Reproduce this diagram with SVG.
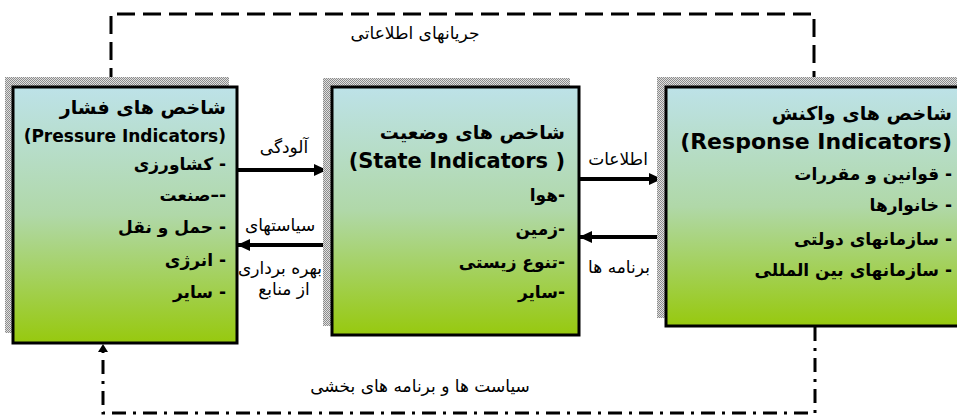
<svg xmlns="http://www.w3.org/2000/svg" width="957" height="419" viewBox="0 0 957 419">
<style>
.box{stroke:#000;stroke-width:3;fill:url(#g)}
.sh{fill:url(#dots)}
.fa{font-family:"DejaVu Sans",sans-serif;fill:#000}
.t{font-size:19px;font-weight:bold;direction:rtl;text-anchor:start}
.i{font-size:17px;font-weight:bold;direction:rtl;text-anchor:start}
.en{font-family:"DejaVu Sans",Verdana,sans-serif;font-weight:bold;text-anchor:end}
.lb{font-size:17px;text-anchor:middle;direction:rtl}
.ar{stroke:#000;stroke-width:4;fill:none}
.dash{stroke:#000;stroke-width:3;fill:none;stroke-dasharray:18 8}
.dd{stroke:#000;stroke-width:3;fill:none;stroke-dasharray:14 7 3 7}
</style>
<defs>
<linearGradient id="g" x1="0" y1="0" x2="0" y2="1">
<stop offset="0" stop-color="#bde2e8"/>
<stop offset="0.5" stop-color="#b0d8a8"/>
<stop offset="1" stop-color="#97c90e"/>
</linearGradient>
<pattern id="dots" width="2" height="2" patternUnits="userSpaceOnUse">
<rect width="2" height="2" fill="#e0e0e0"/>
<rect width="1" height="1" fill="#8c8c8c"/>
<rect x="1" y="1" width="1" height="1" fill="#8c8c8c"/>
</pattern>
<marker id="ah" markerUnits="userSpaceOnUse" markerWidth="14" markerHeight="14" refX="12" refY="7" orient="auto">
<path d="M0,1 L13,7 L0,13 Z" fill="#000"/>
</marker>
</defs>
<rect width="957" height="419" fill="#fff"/>

<g id="connectors">
<path class="dash" d="M111,86 V14 H814 V80"/>
<path d="M809,79 L819,79 L814,87 Z" fill="#000"/>
<path class="dd" d="M815,327 V413 H103 V352"/>
<path d="M98,352 L108,352 L103,344 Z" fill="#000"/>
<line class="ar" x1="237" y1="170" x2="326" y2="170" marker-end="url(#ah)"/>
<line class="ar" x1="332" y1="245" x2="238" y2="245" marker-end="url(#ah)"/>
<line class="ar" x1="579" y1="179" x2="661" y2="179" marker-end="url(#ah)"/>
<line class="ar" x1="666" y1="237" x2="580" y2="237" marker-end="url(#ah)"/>
<text class="fa lb" x="415" y="39" font-size="20">جریانهای اطلاعاتی</text>
<text class="fa lb" x="420" y="392" font-size="19">سیاست ها و برنامه های بخشی</text>
<text class="fa lb" x="284" y="153">آلودگی</text>
<text class="fa lb" x="280" y="231">سیاستهای</text>
<text class="fa lb" x="280" y="274">بهره برداری</text>
<text class="fa lb" x="284" y="295">از منابع</text>
<text class="fa lb" x="618" y="165">اطلاعات</text>
<text class="fa lb" x="619" y="273">برنامه ها</text>
</g>

<g id="pressure">
<rect class="sh" x="5" y="77" width="224" height="256"/>
<rect class="box" x="13" y="87" width="224" height="256"/>
<text class="fa t" x="226" y="114">شاخص های فشار</text>
<text class="en" x="226" y="142" font-size="17">(Pressure Indicators)</text>
<text class="fa i" x="226" y="170">- کشاورزی</text>
<text class="fa i" x="226" y="201">-–صنعت</text>
<text class="fa i" x="226" y="233">- حمل و نقل</text>
<text class="fa i" x="226" y="266">- انرژی</text>
<text class="fa i" x="226" y="298">- سایر</text>
</g>

<g id="state">
<rect class="sh" x="323" y="78" width="247" height="248"/>
<rect class="box" x="332" y="87" width="247" height="248"/>
<text class="fa t" x="565" y="139">شاخص های وضعیت</text>
<text class="en" x="565" y="168" font-size="21">(State Indicators )</text>
<text class="fa i" x="565" y="201">-هوا</text>
<text class="fa i" x="565" y="235">-زمین</text>
<text class="fa i" x="565" y="268">-تنوع زیستی</text>
<text class="fa i" x="565" y="298">-سایر</text>
</g>

<g id="response">
<rect class="sh" x="657" y="77" width="310" height="241"/>
<rect class="box" x="666" y="87" width="310" height="239"/>
<text class="fa t" x="952" y="120">شاخص های واکنش</text>
<text class="en" x="952" y="149" font-size="22">(Response Indicators)</text>
<text class="fa i" x="952" y="180">- قوانین و مقررات</text>
<text class="fa i" x="952" y="211">- خانوارها</text>
<text class="fa i" x="952" y="245">- سازمانهای دولتی</text>
<text class="fa i" x="952" y="276">- سازمانهای بین المللی</text>
</g>
</svg>
